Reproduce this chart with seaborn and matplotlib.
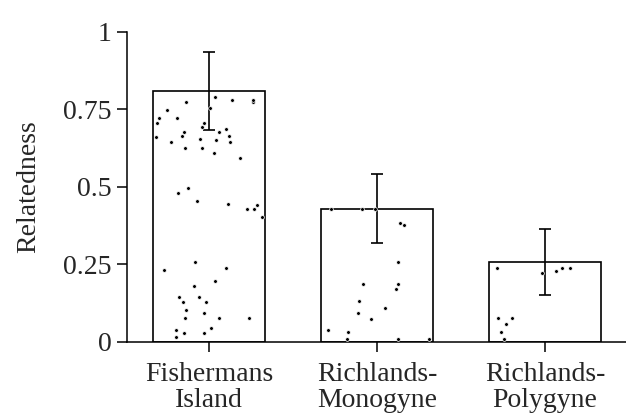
import numpy as np
import pandas as pd
import matplotlib
matplotlib.use("Agg")
import matplotlib.pyplot as plt
import seaborn as sns

categories = ["Fishermans\nIsland", "Richlands-\nMonogyne", "Richlands-\nPolygyne"]
bar_means = [0.81, 0.43, 0.258]
bar_errors = [0.125, 0.112, 0.105]

fishermans_points = [0.790, 0.780, 0.774, 0.756, 0.774, 0.781, 0.748, 0.721, 0.721,
                     0.695, 0.705, 0.705, 0.687, 0.678, 0.666, 0.678, 0.660, 0.650,
                     0.666, 0.656, 0.627, 0.644, 0.627, 0.644, 0.609, 0.593, 0.496,
                     0.482, 0.456, 0.442, 0.404, 0.446, 0.428, 0.428, 0.257, 0.231,
                     0.240, 0.197, 0.180, 0.145, 0.145, 0.128, 0.128, 0.102, 0.094,
                     0.076, 0.076, 0.076, 0.028, 0.028, 0.039, 0.017, 0.044]
monogyne_points = [0.428, 0.428, 0.428, 0.383, 0.376, 0.257, 0.188, 0.188, 0.171,
                   0.133, 0.110, 0.093, 0.075, 0.040, 0.033, 0.010, 0.010, 0.010]
polygyne_points = [0.239, 0.239, 0.222, 0.230, 0.239, 0.078, 0.078, 0.058, 0.033, 0.010]

yticks = [0, 0.25, 0.5, 0.75, 1]
ytick_labels = ["0", "0.25", "0.5", "0.75", "1"]

bars = pd.DataFrame({"group": categories, "relatedness": bar_means})
points = pd.DataFrame({
    "group": ([categories[0]] * len(fishermans_points)
              + [categories[1]] * len(monogyne_points)
              + [categories[2]] * len(polygyne_points)),
    "relatedness": fishermans_points + monogyne_points + polygyne_points,
})

sns.set_theme(style="ticks")
plt.rcParams["font.family"] = ["Liberation Serif", "DejaVu Serif"]

fig = plt.figure(figsize=(6.26, 4.19), dpi=100)
ax = fig.add_axes([0.2029, 0.1838, 0.7971, 0.7399])

sns.barplot(data=bars, x="group", y="relatedness", order=categories,
            errorbar=None, color="white", edgecolor="black", linewidth=1.2,
            width=0.67, ax=ax, zorder=2)
ax.errorbar(np.arange(len(categories)), bar_means, yerr=bar_errors, fmt="none",
            ecolor="black", elinewidth=1.2, capsize=4.3, capthick=1.2, zorder=3)

np.random.seed(3)
sns.stripplot(data=points, x="group", y="relatedness", order=categories,
              color="black", size=2.7, jitter=0.33, edgecolor="white",
              linewidth=0.5, ax=ax, zorder=4)

ax.set_xlim(-0.488, 2.482)
ax.set_ylim(0, 1)
ax.set_yticks(yticks)
ax.set_yticklabels(ytick_labels)
ax.set_xlabel("")
ax.set_ylabel("Relatedness", fontsize=20, labelpad=16)
ax.tick_params(axis="both", labelsize=20, length=7.5, width=1.1, color="black",
               direction="out")
ax.tick_params(axis="x", pad=7)
for lbl in ax.get_xticklabels():
    lbl.set_linespacing(1.05)
for s in ["top", "right"]:
    ax.spines[s].set_visible(False)
for s in ["left", "bottom"]:
    ax.spines[s].set_linewidth(1.1)
    ax.spines[s].set_color("black")

fig.savefig("out.png", dpi=100)
